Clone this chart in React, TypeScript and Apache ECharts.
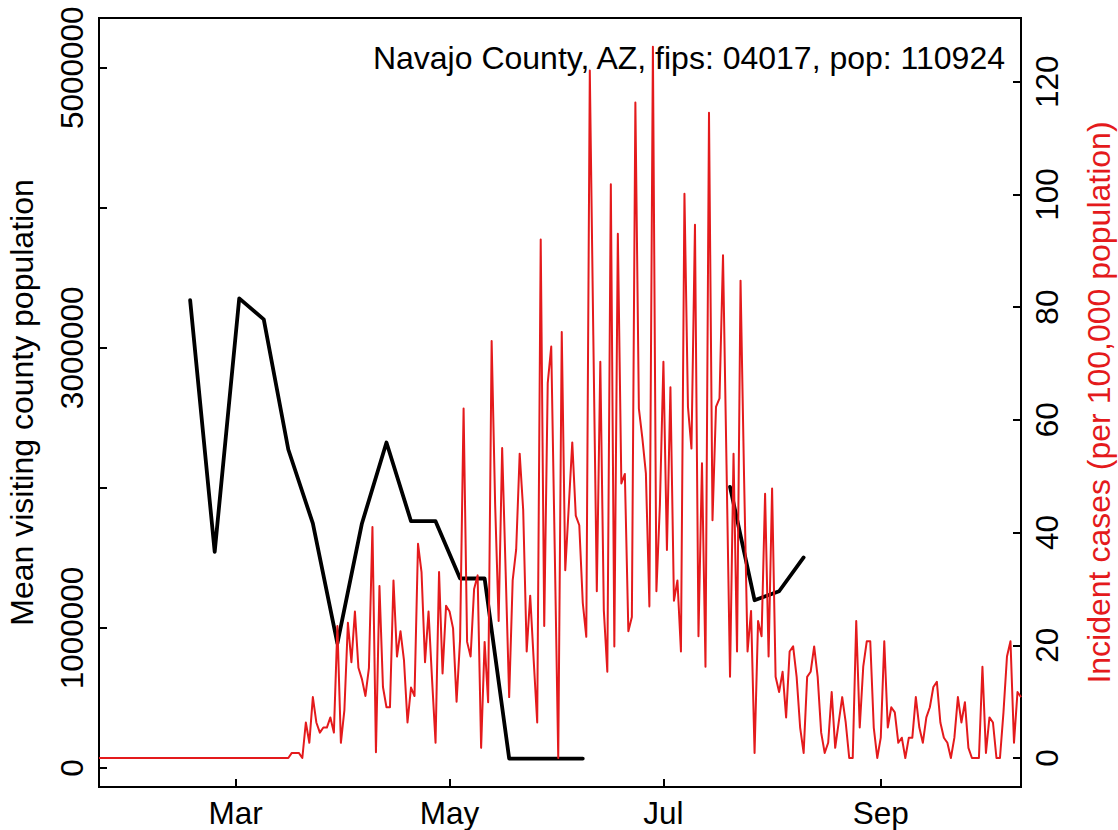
import React, { useEffect, useRef } from "react";
import * as echarts from "echarts";

// ---------- data ----------
const CASE_START = [2020, 1, 22]; // first daily value (year, month, day)

// Incident cases per 100,000 population, daily
const casesJan = [0, 0, 0, 0, 0, 0, 0, 0, 0, 0];
const casesFeb = [0, 0, 0, 0, 0, 0, 0, 0, 0, 0, 0, 0, 0, 0, 0, 0, 0, 0, 0, 0, 0, 0, 0, 0, 0, 0, 0, 0, 0];
const casesMar = [0, 0, 0, 0, 0, 0, 0, 0, 0, 0, 0, 0, 0, 0, 0, 0, 0.9, 0.9, 0.9, 0, 6.3, 2.7, 10.8, 6.3, 4.5, 5.4, 5.4, 7.2, 4.5, 23.4, 2.7];
const casesApr = [8.5, 24, 17, 26, 16, 14, 11, 16, 41, 1, 30.5, 12.6, 9, 9, 31.5, 18, 22.5, 17.3, 6.3, 12.5, 11, 38, 33, 17, 26, 14, 2.7, 33, 15, 27];
const casesMay = [26, 23, 10, 21, 62, 20.6, 18, 30, 32.4, 1.8, 20.6, 9.9, 74, 45, 24.3, 55, 33, 10.8, 31.5, 37, 54, 44, 18.9, 28.8, 17.3, 6.3, 92, 23.4, 66.5, 73, 37];
const casesJun = [0, 75.6, 33.3, 44.6, 56, 43, 41.3, 27.5, 21.5, 122, 75, 29.6, 70.3, 26.2, 15.3, 101.8, 19.8, 93, 48.7, 50.4, 22.5, 25, 116.3, 62, 56.7, 50.5, 26.9, 126.2, 29.6, 45];
const casesJul = [70.3, 36.9, 65.8, 27.9, 31.5, 18.9, 100.1, 62.3, 54.9, 94.6, 21.6, 52.3, 16.2, 114.5, 42.2, 62.3, 63.8, 89.2, 52, 14.4, 54, 18.9, 84.7, 50, 18.9, 26.1, 0.9, 24.3, 21.6, 46.9, 18];
const casesAug = [47.8, 14.4, 11.7, 15.3, 7.2, 18.9, 19.8, 14.4, 5.4, 0.9, 14.4, 15.3, 19.8, 14.4, 4.5, 0.9, 2.7, 11.7, 1.8, 6.3, 10.8, 6.3, 0, 0, 24.3, 5.4, 16.2, 20.7, 20.7, 5.4, 0];
const casesSep = [3.6, 20.7, 5.4, 9.0, 8.1, 2.7, 3.6, 0, 3.6, 3.6, 10.8, 5.4, 2.7, 7.2, 9.0, 12.6, 13.5, 6.3, 3.6, 2.7, 0, 3.6, 10.8, 6.3, 9.9, 1.8, 0, 0, 0, 16.2];
const casesOct = [0.9, 7.2, 6.3, 0, 0, 8.1, 18.0, 20.7, 2.7, 11.7, 10.8];

// Mean visiting county population, weekly
const visitWeeks = [
  "2020-02-17", "2020-02-24", "2020-03-02", "2020-03-09", "2020-03-16", "2020-03-23",
  "2020-03-30", "2020-04-06", "2020-04-13", "2020-04-20", "2020-04-27", "2020-05-04",
  "2020-05-11", "2020-05-18", "2020-05-25", "2020-06-01", "2020-06-08", "2020-06-15",
  "2020-06-22", "2020-06-29", "2020-07-06", "2020-07-13", "2020-07-20", "2020-07-27",
  "2020-08-03", "2020-08-10",
];
const meanVisitors = [
  3340000, 1543000, 3353000, 3203000, 2274000, 1746000,
  889000, 1746000, 2324000, 1762000, 1762000, 1353000,
  1353000, 67000, 67000, 67000, 67000, null,
  null, null, null, null, 2007000, 1198000,
  1262000, 1503000,
];

// Axes
const xRange = ["2020-01-22", "2020-10-11"];
const xTickDates = ["2020-03-01", "2020-05-01", "2020-07-01", "2020-09-01"];
const xTickLabels = ["Mar", "May", "Jul", "Sep"];
const leftTicks = [0, 1000000, 2000000, 3000000, 4000000, 5000000];
const leftTickLabels = [0, 1000000, 3000000, 5000000];
const rightTicks = [0, 20, 40, 60, 80, 100, 120];

const TITLE = "Navajo County, AZ, fips: 04017, pop: 110924";
const LEFT_NAME = "Mean visiting county population";
const RIGHT_NAME = "Incident cases (per 100,000 population)";

// ---------- helpers ----------
const DAY = 86400000;
// day number (UTC based, no DST issues)
function parseDate(s: string): number {
  const [y, m, d] = s.split("-").map(Number);
  return Date.UTC(y, m - 1, d) / DAY;
}

const FONT = "'Liberation Sans', Arial, Helvetica, sans-serif";
const FS = 31.5;
const FS_TITLE = 32;
const RED = "#E41A1C";

export default function App() {
  const ref = useRef<HTMLDivElement>(null);

  useEffect(() => {
    if (!ref.current) return;
    const chart = echarts.init(ref.current, null, { renderer: "svg" });

    const allCases = [
      ...casesJan, ...casesFeb, ...casesMar, ...casesApr, ...casesMay,
      ...casesJun, ...casesJul, ...casesAug, ...casesSep, ...casesOct,
    ];
    const start = Date.UTC(CASE_START[0], CASE_START[1] - 1, CASE_START[2]) / DAY;
    const caseData = allCases.map((v, i) => [start + i, v]);
    const visitData = visitWeeks.map((d, i) => [parseDate(d), meanVisitors[i]]);
    const xTicks = xTickDates.map(parseDate);
    const labelFor = (v: number) => {
      const idx = xTicks.findIndex((t) => Math.abs(t - v) < 0.5);
      return idx >= 0 ? xTickLabels[idx] : "";
    };

    const axisLine = { show: true, onZero: false, lineStyle: { color: "#000", width: 2 } };

    chart.setOption({
      animation: false,
      backgroundColor: "#ffffff",
      textStyle: { fontFamily: FONT },
      grid: {
        left: 99,
        right: 97,
        top: 18,
        bottom: 43,
        show: true,
        borderColor: "#000",
        borderWidth: 2,
        containLabel: false,
        outerBoundsMode: "none",
      },
      xAxis: {
        type: "value",
        min: parseDate(xRange[0]),
        max: parseDate(xRange[1]),
        axisLine,
        axisTick: {
          show: true,
          inside: true,
          length: 8,
          customValues: xTicks,
          lineStyle: { color: "#000", width: 2 },
        },
        axisLabel: {
          customValues: xTicks,
          formatter: (v: number) => labelFor(v),
          color: "#000",
          fontSize: FS,
          fontFamily: FONT,
          margin: 10,
          hideOverlap: false,
        },
        splitLine: { show: false },
      },
      yAxis: [
        {
          type: "value",
          position: "left",
          min: -135714,
          max: 5355000,
          name: LEFT_NAME,
          nameLocation: "middle",
          nameGap: 61,
          nameRotate: 90,
          nameTextStyle: { color: "#000", fontSize: FS_TITLE, fontFamily: FONT },
          axisLine,
          axisTick: {
            show: true,
            inside: true,
            length: 8,
            customValues: leftTicks,
            lineStyle: { color: "#000", width: 2 },
          },
          axisLabel: {
            customValues: leftTickLabels,
            rotate: 90,
            margin: 11,
            color: "#000",
            fontSize: FS,
            fontFamily: FONT,
            formatter: (v: number) => String(v),
          },
          splitLine: { show: false },
        },
        {
          type: "value",
          position: "right",
          min: -5.148,
          max: 131.3,
          name: RIGHT_NAME,
          nameLocation: "middle",
          nameGap: 61.5,
          nameRotate: 90,
          nameTextStyle: { color: RED, fontSize: FS_TITLE, fontFamily: FONT },
          axisLine,
          axisTick: {
            show: true,
            inside: true,
            length: 8,
            customValues: rightTicks,
            lineStyle: { color: "#000", width: 2 },
          },
          axisLabel: {
            customValues: rightTicks,
            rotate: 90,
            margin: 10,
            color: "#000",
            fontSize: FS,
            fontFamily: FONT,
            formatter: (v: number) => String(v),
          },
          splitLine: { show: false },
        },
      ],
      series: [
        {
          name: "visitors",
          type: "line",
          yAxisIndex: 0,
          data: visitData,
          showSymbol: false,
          symbol: "none",
          connectNulls: false,
          lineStyle: { color: "#000", width: 3.8, cap: "round", join: "round" },
          z: 2,
        },
        {
          name: "cases",
          type: "line",
          yAxisIndex: 1,
          data: caseData,
          showSymbol: false,
          symbol: "none",
          lineStyle: { color: RED, width: 2, join: "round" },
          z: 3,
        },
      ],
      graphic: [
        {
          type: "text",
          x: 1005,
          y: 58,
          style: {
            text: TITLE,
            fill: "#000",
            fontSize: FS_TITLE,
            fontFamily: FONT,
            align: "right",
            verticalAlign: "middle",
          },
        },
      ],
    });

    return () => chart.dispose();
  }, []);

  return (
    <div
      ref={ref}
      style={{ position: "absolute", left: 0, top: 0, width: 1118, height: 830 }}
    />
  );
}
